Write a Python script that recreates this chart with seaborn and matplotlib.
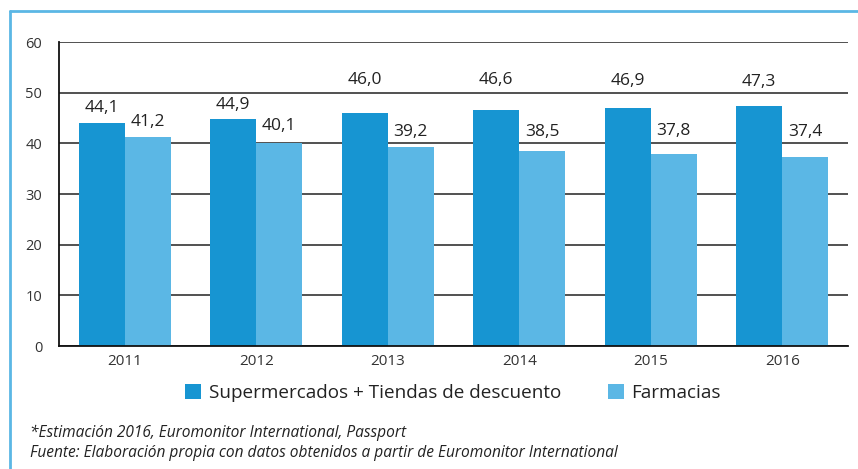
import matplotlib
matplotlib.use("Agg")
import matplotlib.pyplot as plt
import seaborn as sns
import pandas as pd
from matplotlib.lines import Line2D
from matplotlib.patches import Patch

years = ["2011", "2012", "2013", "2014", "2015", "2016"]
supermercados = [44.1, 44.9, 46.0, 46.6, 46.9, 47.3]
farmacias = [41.2, 40.1, 39.2, 38.5, 37.8, 37.4]
series_names = ["Supermercados + Tiendas de descuento", "Farmacias"]
yticks = [0, 10, 20, 30, 40, 50, 60]
notes = ["*Estimación 2016, Euromonitor International, Passport",
         "Fuente: Elaboración propia con datos obtenidos a partir de Euromonitor International"]

# label offsets above bars (points), to keep labels clear of gridlines as in the source
label_pad = [[5, 4, 18, 16, 14, 12], [5, 6, 5, 8, 11, 12]]

sns.set_style("white")
plt.rcParams["font.family"] = ["Open Sans", "DejaVu Sans"]

df = pd.DataFrame({
    "year": years * 2,
    "value": supermercados + farmacias,
    "serie": [series_names[0]] * len(years) + [series_names[1]] * len(years),
})
colors = ["#1795d2", "#5bb7e5"]

fig = plt.figure(figsize=(8.58, 4.69), dpi=100)
ax = fig.add_axes([59 / 858, 1 - 346 / 469, (848 - 59) / 858, (346 - 42) / 469])

sns.barplot(data=df, x="year", y="value", hue="serie", palette=colors,
            width=0.7, saturation=1, ax=ax, legend=False, linewidth=0, errorbar=None)

for ci, cont in enumerate(ax.containers):
    for bi, bar in enumerate(cont):
        v = bar.get_height()
        ax.annotate(f"{v:.1f}".replace(".", ","),
                    xy=(bar.get_x() + bar.get_width() / 2, v),
                    xytext=(0, label_pad[ci][bi]), textcoords="offset points",
                    ha="center", va="bottom", fontsize=12.5, color="#222222")

ax.set_ylim(0, 60)
ax.set_xlim(-0.5, 5.5)
ax.set_yticks(yticks)
ax.set_yticklabels([str(t) for t in yticks])
ax.yaxis.grid(True, color="#222222", linewidth=1.1)
ax.set_axisbelow(True)
for s in ["top", "right"]:
    ax.spines[s].set_visible(False)
for s in ["left", "bottom"]:
    ax.spines[s].set_color("#111111")
    ax.spines[s].set_linewidth(1.3)
ax.set_xlabel("")
ax.set_ylabel("")
ax.tick_params(axis="both", which="major", length=0, colors="#333333")
ax.tick_params(axis="x", labelsize=11, pad=6)
ax.tick_params(axis="y", labelsize=10.5, pad=12)
ax.set_xticks([i - 0.5 for i in range(len(years) + 1)], minor=True)
ax.tick_params(axis="x", which="minor", direction="in", length=6, width=1.3, color="#111111")

handles = [Patch(facecolor=c, edgecolor="none") for c in colors]
fig.legend(handles, series_names, loc="center", bbox_to_anchor=(453 / 858, 1 - 393 / 469),
           ncol=2, frameon=False, fontsize=13.6, handlelength=0.85, handleheight=0.85,
           handletextpad=0.4, columnspacing=2.5, labelcolor="#222222")

fig.text(30 / 858, 1 - 433 / 469, notes[0], fontsize=11.2, style="italic", color="#222222", va="center")
fig.text(30 / 858, 1 - 453 / 469, notes[1], fontsize=11.2, style="italic", color="#222222", va="center")

# blue frame lines (top and left)
fig.add_artist(Line2D([9.5 / 858, 1], [1 - 11 / 469, 1 - 11 / 469], color="#5bb7e5", linewidth=2, transform=fig.transFigure))
fig.add_artist(Line2D([9.5 / 858, 9.5 / 858], [0, 1 - 11 / 469], color="#5bb7e5", linewidth=2, transform=fig.transFigure))

fig.savefig("out.png", dpi=100)
